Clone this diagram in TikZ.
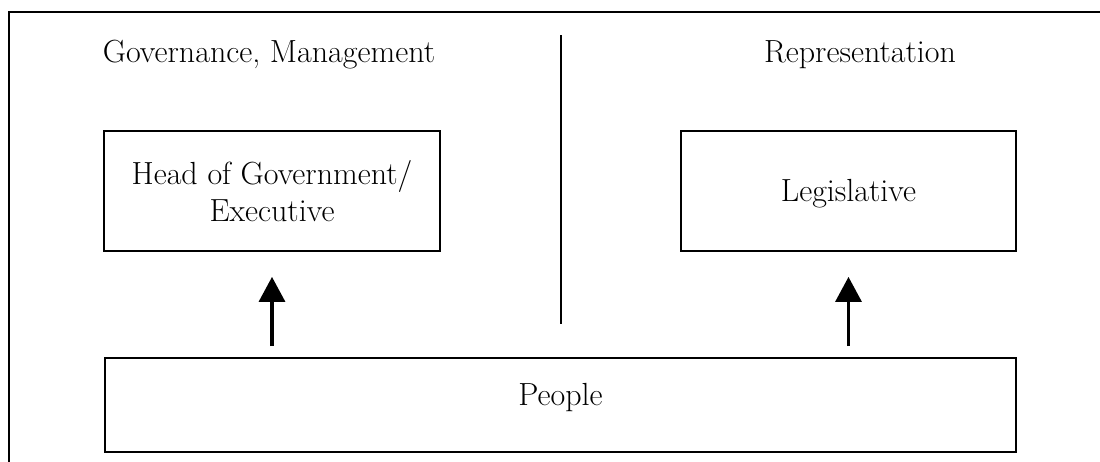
\documentclass[tikz,border=0pt]{standalone}
\usetikzlibrary{arrows.meta}
\begin{document}
\begin{tikzpicture}[x=1pt,y=-1pt,
  txt/.style={font=\fontsize{32}{37.5}\selectfont, inner sep=0pt},
  boxnode/.style={draw, line width=1.8pt, txt, align=center},
  uparrow/.style={line width=3.3pt, -{Triangle[width=26pt,length=25pt]}, shorten <=11pt, shorten >=25pt}
]
\useasboundingbox (0,0) rectangle (1100,461);
% outer frame (cut by picture edge)
\draw[line width=1.8pt] (9,462) -- (9,12) -- (1101,12);
% headers
\node[txt, anchor=base] (gov) at (269,62) {Governance, Management};
\node[txt, anchor=base] (rep) at (860,62) {Representation};
% divider
\coordinate (divtop) at (561,35);
\coordinate (divbot) at (561,324);
\draw[line width=1.5pt] (divtop) -- (divbot);
% boxes
\node[boxnode, minimum width=336pt, minimum height=120pt] (hog) at (272,191) {Head of Government/\\Executive};
\node[boxnode, minimum width=335pt, minimum height=120pt, text height=21.4pt, text depth=0pt] (leg) at (848.5,191) {Legislative};
\node[boxnode, minimum width=911pt, minimum height=94pt, text height=0pt, text depth=0pt] (people) at (560.5,405) {People};
% arrows
\draw[uparrow] (people.north -| hog.south) -- (hog.south);
\draw[uparrow] (people.north -| leg.south) -- (leg.south);
\end{tikzpicture}
\end{document}
